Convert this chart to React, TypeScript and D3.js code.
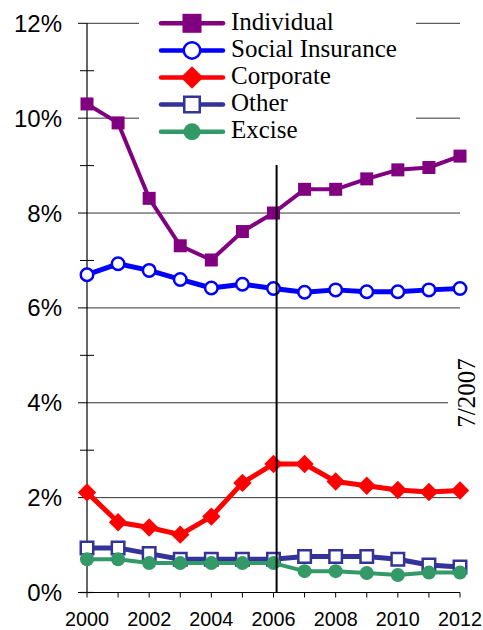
import * as d3 from "d3";
import React from "react";

const years = [2000, 2001, 2002, 2003, 2004, 2005, 2006, 2007, 2008, 2009, 2010, 2011, 2012];
const individual = [10.3, 9.9, 8.31, 7.31, 7.01, 7.61, 8.0, 8.5, 8.5, 8.72, 8.91, 8.96, 9.2];
const socialInsurance = [6.7, 6.93, 6.79, 6.6, 6.42, 6.5, 6.41, 6.33, 6.38, 6.34, 6.34, 6.38, 6.41];
const corporate = [2.11, 1.48, 1.37, 1.22, 1.6, 2.31, 2.71, 2.71, 2.34, 2.25, 2.16, 2.12, 2.15];
const other = [0.94, 0.94, 0.82, 0.7, 0.7, 0.7, 0.7, 0.76, 0.76, 0.76, 0.7, 0.58, 0.54];
const excise = [0.7, 0.7, 0.62, 0.62, 0.62, 0.62, 0.62, 0.45, 0.45, 0.41, 0.37, 0.42, 0.42];

const yTicks = [0, 2, 4, 6, 8, 10, 12];
const yMinorTicks = [1, 3, 5, 7, 9, 11];
const xLabels = [2000, 2002, 2004, 2006, 2008, 2010, 2012];
const markerYear = 2006.1;
const markerLabel = "7/2007";

interface Series {
  name: string;
  values: number[];
  color: string;
  shape: "square" | "circle" | "diamond";
  fill: string;
  lineWidth: number;
  size: number;
  legendSize: number;
}

const series: Series[] = [
  { name: "Individual", values: individual, color: "#800080", shape: "square", fill: "#800080", lineWidth: 4, size: 13, legendSize: 17 },
  { name: "Social Insurance", values: socialInsurance, color: "#0000FF", shape: "circle", fill: "#FFFFFF", lineWidth: 5, size: 15, legendSize: 17 },
  { name: "Corporate", values: corporate, color: "#FF0000", shape: "diamond", fill: "#FF0000", lineWidth: 5, size: 13, legendSize: 14 },
  { name: "Other", values: other, color: "#333399", shape: "square", fill: "#FFFFFF", lineWidth: 5, size: 15, legendSize: 16 },
  { name: "Excise", values: excise, color: "#339966", shape: "circle", fill: "#339966", lineWidth: 4, size: 14, legendSize: 15 },
];

const width = 483;
const height = 630;
const sansFont = "Liberation Sans";
const serifFont = "Liberation Serif";

class App extends React.Component {
  private svgRef: React.RefObject<SVGSVGElement>;

  constructor(props: any) {
    super(props);
    this.svgRef = React.createRef();
  }

  public componentDidMount() {
    this.drawChart();
  }

  public render() {
    return (
      <svg ref={this.svgRef} width={width} height={height}
        style={{ position: "fixed", left: 0, top: 0, background: "#fff" }}></svg>
    );
  }

  private marker(g: d3.Selection<any, any, any, any>, s: Series, size: number, cx: number, cy: number) {
    const hollow = s.fill === "#FFFFFF";
    if (s.shape === "circle") {
      g.append("circle")
        .attr("cx", cx).attr("cy", cy).attr("r", size / 2 - (hollow ? 1.25 : 0))
        .attr("fill", s.fill)
        .attr("stroke", hollow ? s.color : "none")
        .attr("stroke-width", 2.5);
    } else {
      const side = s.shape === "diamond" ? size : size - (hollow ? 2.5 : 0);
      const path = d3.symbol().type(d3.symbolSquare).size(side * side)();
      g.append("path")
        .attr("d", path)
        .attr("transform", `translate(${cx},${cy})` + (s.shape === "diamond" ? " rotate(45)" : ""))
        .attr("fill", s.fill)
        .attr("stroke", hollow ? s.color : "none")
        .attr("stroke-width", 2.5);
    }
  }

  private drawChart() {
    const svg = d3.select(this.svgRef.current);

    const xScale = d3.scaleLinear().domain([2000, 2012]).range([87, 460]);
    const yScale = d3.scaleLinear().domain([0, 12]).range([592.5, 23.3]);

    // gridlines
    svg.append("g")
      .selectAll("line")
      .data(yTicks.filter((d) => d > 0))
      .join("line")
      .attr("x1", xScale(2000)).attr("x2", xScale(2012))
      .attr("y1", (d) => yScale(d)).attr("y2", (d) => yScale(d))
      .attr("stroke", "#333").attr("stroke-width", 1);

    // y axis
    const yAxisG = svg.append("g");
    yAxisG.append("line")
      .attr("x1", xScale(2000)).attr("x2", xScale(2000))
      .attr("y1", yScale(12)).attr("y2", yScale(0))
      .attr("stroke", "#000").attr("stroke-width", 1.2);
    yAxisG.selectAll(".major")
      .data(yTicks)
      .join("line")
      .attr("class", "major")
      .attr("x1", 78).attr("x2", xScale(2000))
      .attr("y1", (d) => yScale(d)).attr("y2", (d) => yScale(d))
      .attr("stroke", "#000").attr("stroke-width", 1);
    yAxisG.selectAll(".minor")
      .data(yMinorTicks)
      .join("line")
      .attr("class", "minor")
      .attr("x1", 80).attr("x2", 94)
      .attr("y1", (d) => yScale(d)).attr("y2", (d) => yScale(d))
      .attr("stroke", "#000").attr("stroke-width", 1);
    yAxisG.selectAll("text")
      .data(yTicks)
      .join("text")
      .attr("x", 62)
      .attr("y", (d) => yScale(d) + 8.5)
      .attr("text-anchor", "end")
      .style("font-family", sansFont)
      .style("font-size", "24px")
      .text((d) => `${d}%`);

    // x axis
    const xAxisG = svg.append("g");
    xAxisG.append("line")
      .attr("x1", 78).attr("x2", xScale(2012))
      .attr("y1", yScale(0)).attr("y2", yScale(0))
      .attr("stroke", "#000").attr("stroke-width", 1.2);
    xAxisG.append("line")
      .attr("x1", 80).attr("x2", 94)
      .attr("y1", yScale(0)).attr("y2", yScale(0))
      .attr("stroke", "#000").attr("stroke-width", 1.2);
    xAxisG.selectAll(".tick")
      .data(years)
      .join("line")
      .attr("class", "tick")
      .attr("x1", (d) => xScale(d)).attr("x2", (d) => xScale(d))
      .attr("y1", yScale(0)).attr("y2", yScale(0) + 5)
      .attr("stroke", "#000").attr("stroke-width", 1);
    xAxisG.selectAll("text")
      .data(xLabels)
      .join("text")
      .attr("x", (d) => xScale(d))
      .attr("y", 626)
      .attr("text-anchor", "middle")
      .attr("textLength", 44)
      .attr("lengthAdjust", "spacingAndGlyphs")
      .style("font-family", sansFont)
      .style("font-size", "21px")
      .text((d) => `${d}`);

    // series
    const line = d3.line<number>()
      .x((_, i) => xScale(years[i]))
      .y((d) => yScale(d));

    series.forEach((s) => {
      const g = svg.append("g");
      g.append("path")
        .attr("d", line(s.values))
        .attr("fill", "none")
        .attr("stroke", s.color)
        .attr("stroke-width", s.lineWidth)
        .attr("stroke-linejoin", "round");
      s.values.forEach((v, i) => this.marker(g, s, s.size, xScale(years[i]), yScale(v)));
    });

    // vertical marker line
    svg.append("line")
      .attr("x1", xScale(markerYear)).attr("x2", xScale(markerYear))
      .attr("y1", 165).attr("y2", yScale(0))
      .attr("stroke", "#000").attr("stroke-width", 2);

    // marker label
    svg.append("rect")
      .attr("x", 448).attr("y", 345).attr("width", 35).attr("height", 95)
      .attr("fill", "#fff");
    svg.append("text")
      .attr("transform", `translate(475,393) rotate(-90)`)
      .attr("text-anchor", "middle")
      .style("font-family", serifFont)
      .style("font-size", "25px")
      .text(markerLabel);

    // legend
    const legend = svg.append("g");
    legend.append("rect")
      .attr("x", 139).attr("y", 2).attr("width", 277).attr("height", 143)
      .attr("fill", "#fff");
    const legendY = d3.scaleLinear().domain([0, 4]).range([23.3, 131.7]);
    series.forEach((s, i) => {
      const cy = legendY(i);
      legend.append("line")
        .attr("x1", 161).attr("x2", 223)
        .attr("y1", cy).attr("y2", cy)
        .attr("stroke", s.color).attr("stroke-width", 4.5)
        .attr("stroke-linecap", "round");
      this.marker(legend, s, s.legendSize + 2, 192, cy);
      legend.append("text")
        .attr("x", 231)
        .attr("y", cy + 6.5)
        .style("font-family", serifFont)
        .style("font-size", "25px")
        .text(s.name);
    });
  }
}

export default App;
